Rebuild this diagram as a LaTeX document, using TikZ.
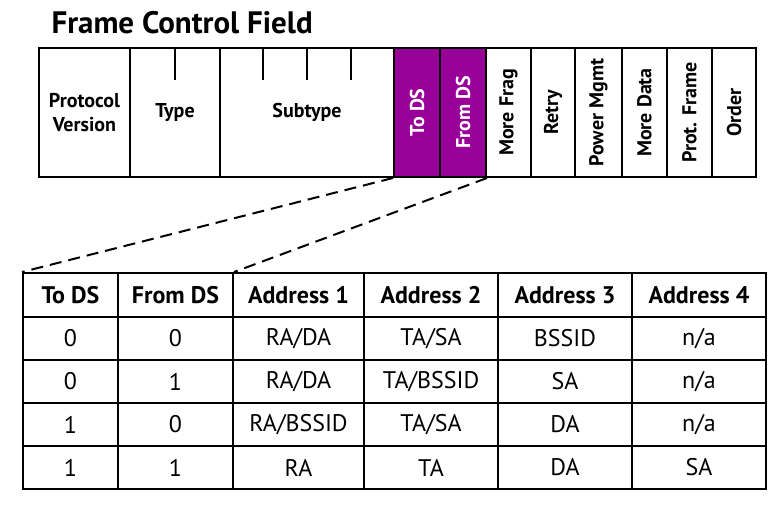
\documentclass[tikz,border=0pt]{standalone}
\usepackage{fontspec}
\setmainfont{PT Sans}
\usepackage{tikz}
\usetikzlibrary{calc}
\definecolor{dspurple}{RGB}{153,0,153}

\begin{document}
\begin{tikzpicture}[x=1pt, y=1pt,
                    field/.style={draw, line width=2pt, minimum height=129pt, inner sep=0pt,
                                  anchor=north west, align=center,
                                  font=\bfseries\fontsize{20}{23.5}\selectfont},
                    flagbit/.style={field, fill=dspurple, text=white},
                    cell/.style={draw, line width=2pt, minimum height=43pt, inner sep=0pt,
                                 anchor=north west, font=\fontsize{24}{28}\selectfont},
                    headcell/.style={cell, minimum height=44pt,
                                     font=\bfseries\fontsize{24}{28}\selectfont}]
  \useasboundingbox (0,0) rectangle (781,-507);
  \node[anchor=base west, font=\bfseries\fontsize{31}{36}\selectfont] (title) at (48,-33) {Frame Control Field};

  \node[field, minimum width=91pt] (pv) at (38,-47) {Protocol\\Version};
  \node[field, minimum width=90pt] (type) at (129,-47) {Type};
  \node[field, minimum width=174pt] (subtype) at (219,-47) {Subtype};
  \node[flagbit, minimum width=46pt] (tods) at (393,-47) {\rotatebox{90}{To DS}};
  \node[flagbit, minimum width=46pt] (fromds) at (439,-47) {\rotatebox{90}{From DS}};
  \foreach \x/\w/\name/\txt in {485/45/morefrag/More Frag, 530/44/retry/Retry,
                                574/47/pwrmgmt/Power Mgmt, 621/45/moredata/More Data,
                                666/45/protframe/Prot. Frame, 711/44/order/Order}
    \node[field, minimum width=\w pt] (\name) at (\x,-47) {\rotatebox{90}{\txt}};

  \draw[line width=2pt] (type.north) -- ++(0,-33);
  \foreach \i in {1,2,3}
    \draw[line width=2pt] ($(subtype.north west)!\i/4!(subtype.north east)$) -- ++(0,-33);

  \foreach \x/\w/\txt [count=\col] in {22/95/To DS, 117/115/From DS, 232/131/Address 1,
                                       363/134/Address 2, 497/134/Address 3, 631/134/Address 4}
    \node[headcell, minimum width=\w pt] (h\col) at (\x,-272) {\txt};

  \foreach \row/\y/\cells in {1/316/{0,0,RA\slash DA,TA\slash SA,BSSID,n\slash a},
                              2/359/{0,1,RA\slash DA,TA\slash BSSID,SA,n\slash a},
                              3/402/{1,0,RA\slash BSSID,TA\slash SA,DA,n\slash a},
                              4/445/{1,1,RA,TA,DA,SA}}
    \foreach \txt [count=\col] in \cells {
      \pgfmathsetmacro\cw{{95,115,131,134,134,134}[\col-1]}
      \node[cell, minimum width=\cw pt] (r\row c\col) at (h\col.south west |- 0,-\y) {\txt};
    }

  \draw[line width=2pt, dash pattern=on 12pt off 7pt] (tods.south west) -- (h1.north west);
  \draw[line width=2pt, dash pattern=on 12pt off 7pt] (fromds.south east) -- (h2.north east);
\end{tikzpicture}
\end{document}
